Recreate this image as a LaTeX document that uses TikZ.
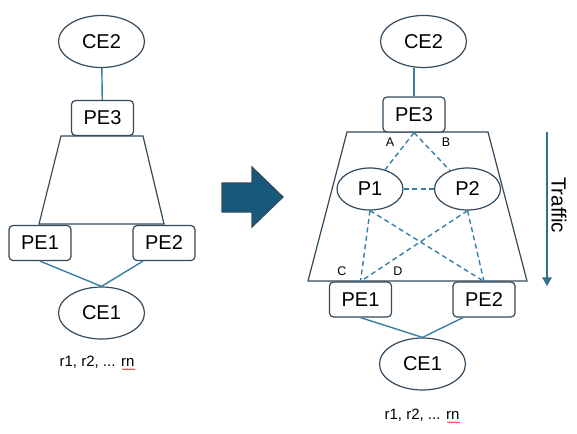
\documentclass[tikz,border=0pt]{standalone}
\usepackage{fontspec}
\setmainfont{Liberation Sans}
\usetikzlibrary{arrows,shapes.geometric,decorations.pathmorphing}
\definecolor{outline}{HTML}{34495A}
\definecolor{linkc}{HTML}{3580A4}
\definecolor{bigarrow}{HTML}{17597A}

\begin{document}
\begin{tikzpicture}[x=1pt,y=-1pt,line width=1.2pt]
				\tikzstyle{router} = [draw=outline, fill=white, rounded corners=4pt, minimum width=62pt, minimum height=35pt, inner sep=0pt, font=\fontsize{20}{24}\selectfont]
				\tikzstyle{site} = [draw=outline, fill=white, ellipse, minimum width=86pt, minimum height=52pt, inner sep=0pt, font=\fontsize{20}{24}\selectfont]
				\tikzstyle{core} = [site, minimum width=66pt, minimum height=42pt]
				\tikzstyle{link} = [draw=linkc, line width=1.4pt]
				\tikzstyle{tunnel} = [draw=linkc, line width=1.4pt, dash pattern=on 5pt off 3.5pt]
				\tikzstyle{tag} = [font=\fontsize{12.5}{14}\selectfont, inner sep=0pt]
				\tikzstyle{routes} = [font=\fontsize{15}{18}\selectfont, inner sep=0pt]
				\tikzstyle{myedgestyle} = [-triangle 60]
				
				\useasboundingbox (0,0) rectangle (577,433);
				
				% before
				\draw [outline] (61,136) -- (143,136) -- (164,224) -- (39,224) -- cycle;
				\node [site] (CE2a) at (101.5,41.5) {CE2};
				\node [router] (PE3a) at (102.5,118) {PE3};
				\node [router] (PE1a) at (40,243) {PE1};
				\node [router] (PE2a) at (164,243) {PE2};
				\node [site] (CE1a) at (101.5,313) {CE1};
				\node [routes] (RTa) at (97,362) {r1, r2, ... rn};
				
				\draw [link] (CE2a) -- (PE3a);
				\draw [link] (PE1a.south) -- (CE1a.north);
				\draw [link] ([xshift=-21pt]PE2a.south) -- (CE1a.north);
				\draw [red, decorate, decoration={snake,amplitude=0.6pt,segment length=2.5pt}, line width=0.5pt]
					([shift={(-13pt,-3pt)}]RTa.base east) -- ([yshift=-3pt]RTa.base east);
				
				% big arrow
				\filldraw [fill=bigarrow, draw=outline] (222,183) -- (252,183) -- (252,167) -- (283,197)
					-- (252,227) -- (252,212) -- (222,212) -- cycle;
				
				% after
				\draw [outline] (347,132) -- (488,132) -- (527,281) -- (308,281) -- cycle;
				\node [site] (CE2b) at (423.5,41.5) {CE2};
				\node [router] (PE3b) at (414,114.5) {PE3};
				\node [core] (P1) at (370,189) {P1};
				\node [core] (P2) at (467.5,189) {P2};
				\node [router] (PE1b) at (360.5,299.5) {PE1};
				\node [router] (PE2b) at (484,299.5) {PE2};
				\node [site] (CE1b) at (422.5,364) {CE1};
				\node [routes] (RTb) at (422,415) {r1, r2, ... rn};
				
				\node [tag] (A) at (390,142) {A};
				\node [tag] (B) at (446,142) {B};
				\node [tag] (C) at (342,271) {C};
				\node [tag] (D) at (398,271) {D};
				
				\draw [link] (PE3b.north) -- (PE3b.north |- CE2b.south);
				\draw [link] (PE1b.south) -- (CE1b.north);
				\draw [link] ([xshift=-21pt]PE2b.south) -- (CE1b.north);
				\draw [red, decorate, decoration={snake,amplitude=0.6pt,segment length=2.5pt}, line width=0.5pt]
					([shift={(-13pt,-3pt)}]RTb.base east) -- ([yshift=-3pt]RTb.base east);
				
				\draw [tunnel] (PE3b.south) -- (P1);
				\draw [tunnel] (PE3b.south) -- (P2);
				\draw [tunnel] (P1) -- (P2);
				\draw [tunnel] (P1.south) -- (PE1b.north);
				\draw [tunnel] (P1.south) -- (PE2b.north);
				\draw [tunnel] (P2.south) -- (PE1b.north);
				\draw [tunnel] (P2.south) -- (PE2b.north);
				
				% traffic
				\coordinate (T1) at (547,132);
				\coordinate (T2) at (547,286);
				\draw [myedgestyle, linkc!70!outline, line width=1.4pt] (T1) -- (T2);
				\node [rotate=-90, font=\fontsize{20.5}{24}\selectfont] (TR) at (559,205) {Traffic};
				
\end{tikzpicture}
\end{document}
